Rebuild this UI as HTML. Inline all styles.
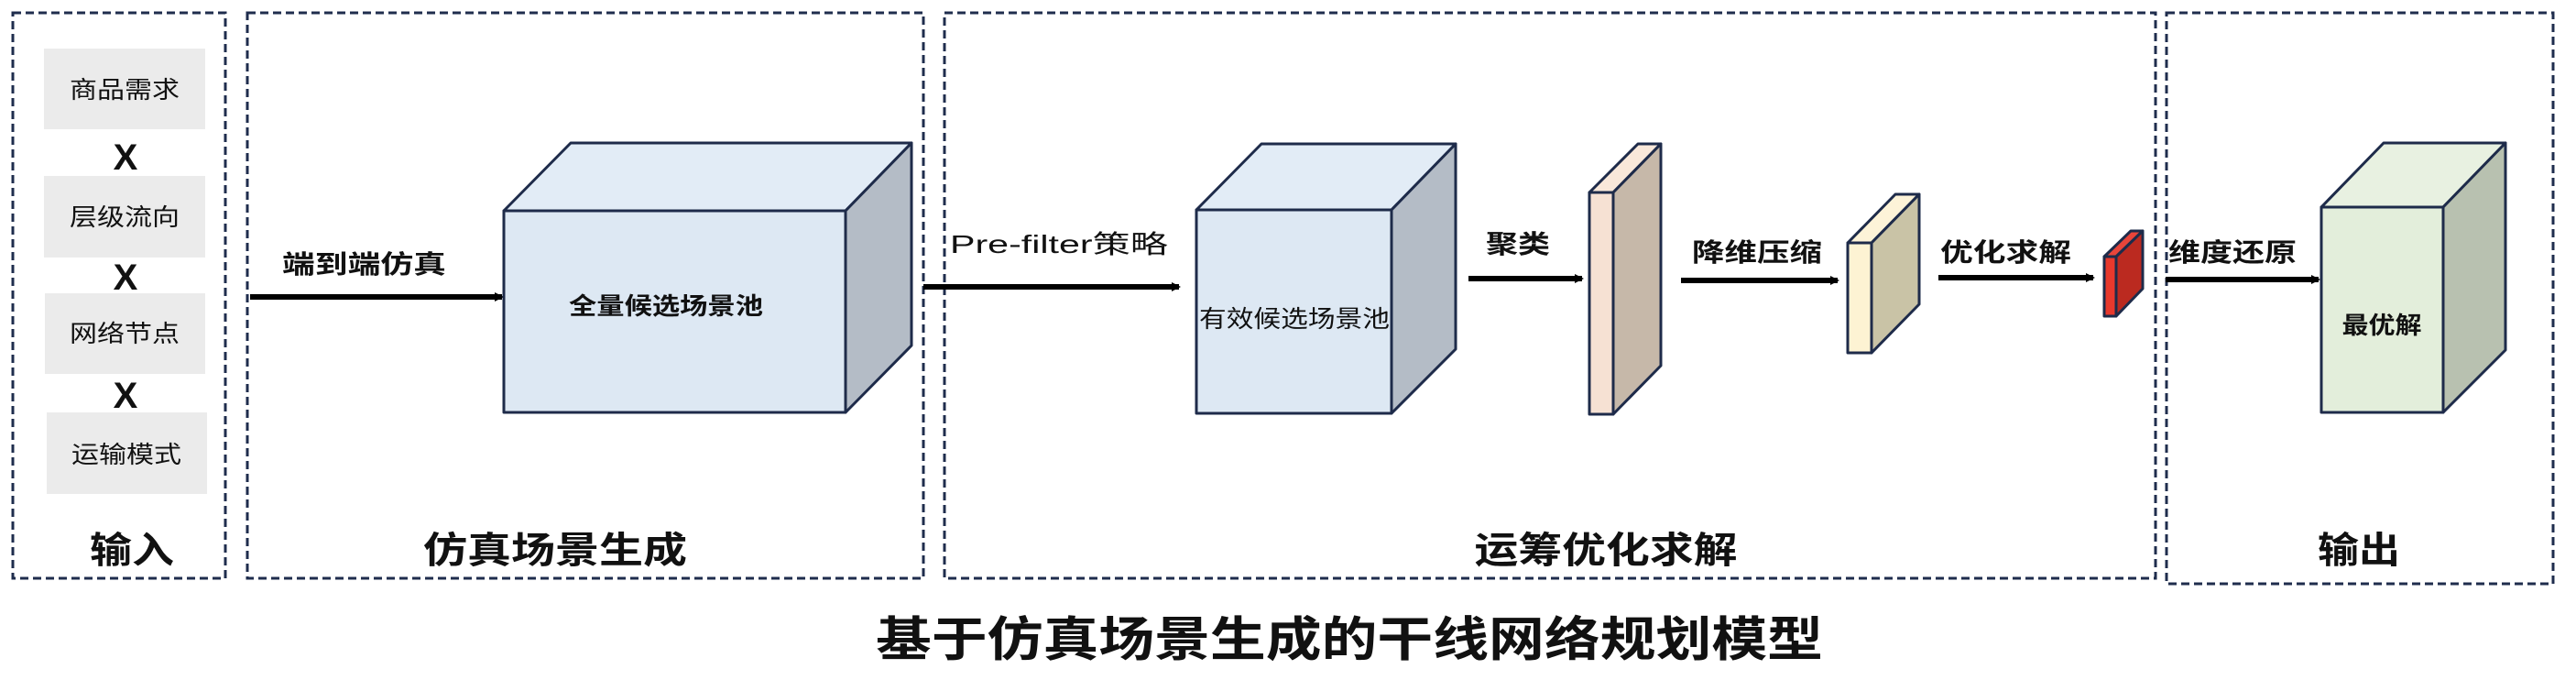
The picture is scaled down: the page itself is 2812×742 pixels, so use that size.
<!DOCTYPE html>
<html><head><meta charset="utf-8"><style>
html,body{margin:0;padding:0;background:#fff;}
svg{display:block;}
text{font-family:"Liberation Sans","Noto Sans CJK SC",sans-serif;fill:#111;}
</style></head><body>
<svg width="2812" height="742" viewBox="0 0 2812 742" xmlns="http://www.w3.org/2000/svg">
<defs>
<marker id="ah" markerWidth="10" markerHeight="10" refX="8" refY="5" orient="auto" markerUnits="userSpaceOnUse" viewBox="0 0 10 10">
<path d="M0,0 L10,5 L0,10 z" fill="#000"/>
</marker>
</defs>
<g fill="none" stroke="#1f2d4d" stroke-width="3" stroke-dasharray="9 5">
<rect x="14" y="14" width="232" height="617"/>
<rect x="270" y="14" width="738" height="617"/>
<rect x="1031" y="14" width="1322" height="617"/>
<rect x="2365" y="14" width="422" height="623"/>
</g>
<g fill="#ebebeb">
<rect x="48" y="53" width="176" height="88"/>
<rect x="48" y="192" width="176" height="89"/>
<rect x="49" y="320" width="175" height="88"/>
<rect x="51" y="450" width="175" height="89"/>
</g>
<g font-size="26" text-anchor="middle">
<text x="136" y="107" textLength="120" lengthAdjust="spacingAndGlyphs">商品需求</text>
<text x="136" y="246" textLength="120" lengthAdjust="spacingAndGlyphs">层级流向</text>
<text x="136" y="373" textLength="120" lengthAdjust="spacingAndGlyphs">网络节点</text>
<text x="138" y="505" textLength="120" lengthAdjust="spacingAndGlyphs">运输模式</text>
</g>
<g font-size="40" font-weight="bold" text-anchor="middle">
<text x="137" y="185">X</text>
<text x="137" y="316">X</text>
<text x="137" y="445">X</text>
</g>
<g font-size="40" font-weight="bold" text-anchor="middle">
<text x="144" y="614" textLength="92" lengthAdjust="spacingAndGlyphs">输入</text>
<text x="606" y="614" textLength="288" lengthAdjust="spacingAndGlyphs">仿真场景生成</text>
<text x="1753" y="614" textLength="287" lengthAdjust="spacingAndGlyphs">运筹优化求解</text>
<text x="2575" y="614" textLength="90" lengthAdjust="spacingAndGlyphs">输出</text>
</g>
<text x="1473" y="716" font-size="52" font-weight="bold" text-anchor="middle" fill="#222" textLength="1034" lengthAdjust="spacingAndGlyphs">基于仿真场景生成的干线网络规划模型</text>
<g stroke="#000" stroke-width="6" marker-end="url(#ah)">
<line x1="273" y1="324" x2="548" y2="324"/>
<line x1="1008" y1="313" x2="1287" y2="313"/>
<line x1="1603" y1="304" x2="1727" y2="304"/>
<line x1="1835" y1="306" x2="2006" y2="306"/>
<line x1="2116" y1="303" x2="2285" y2="303"/>
<line x1="2364" y1="305" x2="2531" y2="305"/>
</g>
<g font-size="28" font-weight="bold">
<text x="308" y="298" textLength="179" lengthAdjust="spacingAndGlyphs">端到端仿真</text>
<text x="1037" y="276" textLength="238" lengthAdjust="spacingAndGlyphs" font-weight="normal">Pre-filter策略</text>
<text x="1622" y="276" textLength="70" lengthAdjust="spacingAndGlyphs">聚类</text>
<text x="1847" y="285" textLength="142" lengthAdjust="spacingAndGlyphs">降维压缩</text>
<text x="2118" y="285" textLength="143" lengthAdjust="spacingAndGlyphs">优化求解</text>
<text x="2367" y="285" textLength="140" lengthAdjust="spacingAndGlyphs">维度还原</text>
</g>
<g stroke="#1e2b4a" stroke-width="3" stroke-linejoin="round">
<polygon points="550,230 623,156 995,156 923,230" fill="#e2ecf6"/>
<polygon points="923,230 995,156 995,377 923,450" fill="#b4bcc6"/>
<rect x="550" y="230" width="373" height="220" fill="#dde8f3"/>
<polygon points="1306,229 1377,157 1589,157 1519,229" fill="#e2ecf6"/>
<polygon points="1519,229 1589,157 1589,381 1519,451" fill="#b4bcc6"/>
<rect x="1306" y="229" width="213" height="222" fill="#dde8f3"/>
<polygon points="1735,210 1788,157 1813,157 1761,210" fill="#f9e8da"/>
<polygon points="1761,210 1813,157 1813,399 1761,452" fill="#c6b8a9"/>
<rect x="1735" y="210" width="26" height="242" fill="#f6e1d3"/>
<polygon points="2017,265 2069,212 2095,212 2043,265" fill="#fdf3d8"/>
<polygon points="2043,265 2095,212 2095,332 2043,385" fill="#c9c3a6"/>
<rect x="2017" y="265" width="26" height="120" fill="#fdf3d3"/>
<polygon points="2297,280 2326,252 2339,252 2310,280" fill="#e8453a"/>
<polygon points="2310,280 2339,252 2339,315 2310,345" fill="#bb2a20"/>
<rect x="2297" y="280" width="13" height="65" fill="#e8392d"/>
<polygon points="2534,226 2602,156 2735,156 2667,226" fill="#e8f1e1"/>
<polygon points="2667,226 2735,156 2735,382 2667,450" fill="#b8c1b0"/>
<rect x="2534" y="226" width="133" height="224" fill="#e3eedb"/>
</g>
<g font-size="26" font-weight="bold" text-anchor="middle">
<text x="727" y="343" textLength="212" lengthAdjust="spacingAndGlyphs">全量候选场景池</text>
<text x="1413" y="357" textLength="208" lengthAdjust="spacingAndGlyphs" font-weight="normal">有效候选场景池</text>
<text x="2600" y="364" textLength="87" lengthAdjust="spacingAndGlyphs">最优解</text>
</g>
</svg>
</body></html>
